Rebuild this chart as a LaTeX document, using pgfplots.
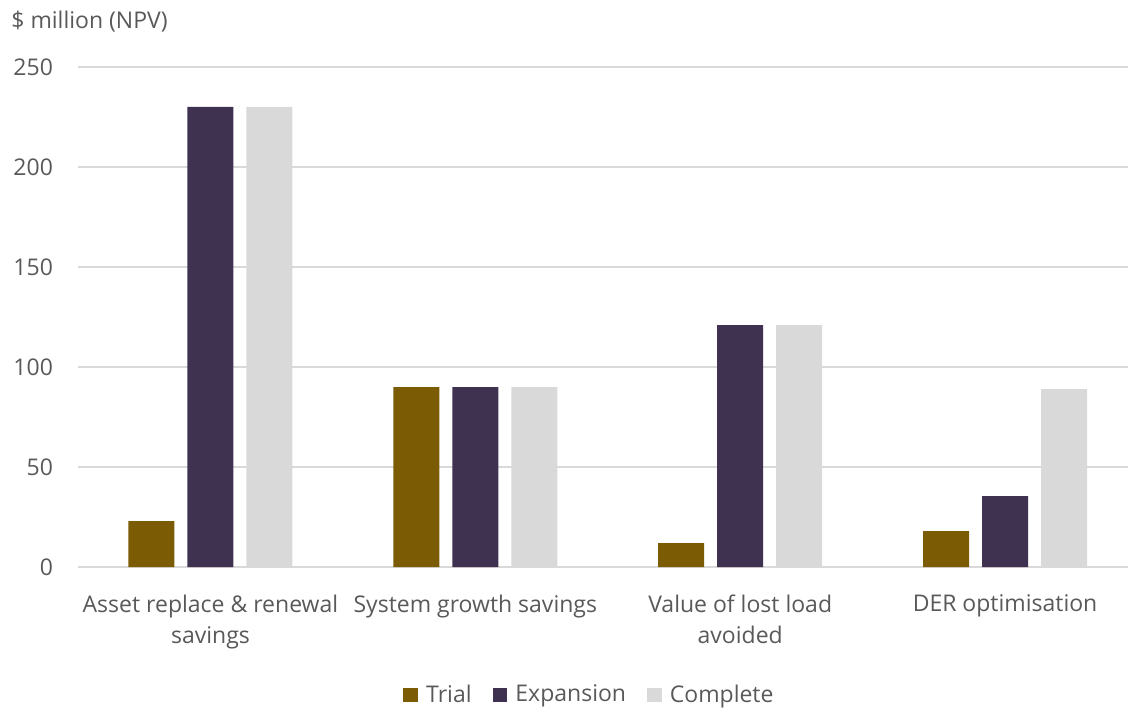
\documentclass[border=0pt]{standalone}
\usepackage{fontspec}
\setmainfont{Open Sans}
\usepackage{pgfplots}
\pgfplotsset{compat=1.18}

\definecolor{trial}{HTML}{7B5C05}
\definecolor{expansion}{HTML}{3F3150}
\definecolor{complete}{HTML}{D9D9D9}
\definecolor{gridc}{HTML}{D9D9D9}
\definecolor{textc}{HTML}{595959}

\begin{document}
\begin{tikzpicture}[font=\fontsize{11.5}{15.5}\selectfont, text=textc]
\useasboundingbox (-39pt,-70pt) rectangle (525pt,283.5pt);
\begin{axis}[
  scale only axis,
  width=525pt, height=250pt,
  xmin=-0.5, xmax=3.4642,
  ymin=0, ymax=250,
  ybar=6.5pt, bar width=23pt,
  axis line style={draw=none},
  tick style={draw=none},
  ymajorgrids,
  grid style={gridc, line width=0.75pt},
  ytick={0,50,100,150,200,250},
  xtick={0,1,2,3},
  xticklabels={Asset replace \& renewal\\savings, System growth savings, Value of lost load\\avoided, DER optimisation},
  xticklabel style={align=center, yshift=-6pt},
  yticklabel style={xshift=-9pt},
  /pgf/number format/assume math mode=true,
  legend columns=-1,
  legend style={draw=none, fill=none, at={(0.4876,-0.256)}, anchor=center,
    /tikz/every odd column/.append style={column sep=2.5pt},
    /tikz/every even column/.append style={column sep=9pt},
    nodes={inner sep=1.5pt}},
  legend image code/.code={\fill[#1] (0pt,-3.7pt) rectangle (7.4pt,3.7pt);},
]
\addplot[fill=trial, draw=none] coordinates {(0,23) (1,90) (2,12) (3,18)};
\addplot[fill=expansion, draw=none] coordinates {(0,230) (1,90) (2,121) (3,35.5)};
\addplot[fill=complete, draw=none] coordinates {(0,230) (1,90) (2,121) (3,89)};
\legend{Trial, Expansion, Complete}
\end{axis}
\node[anchor=west, inner sep=0pt] at (-33.5pt,272.5pt) {\$ million (NPV)};
\end{tikzpicture}
\end{document}
